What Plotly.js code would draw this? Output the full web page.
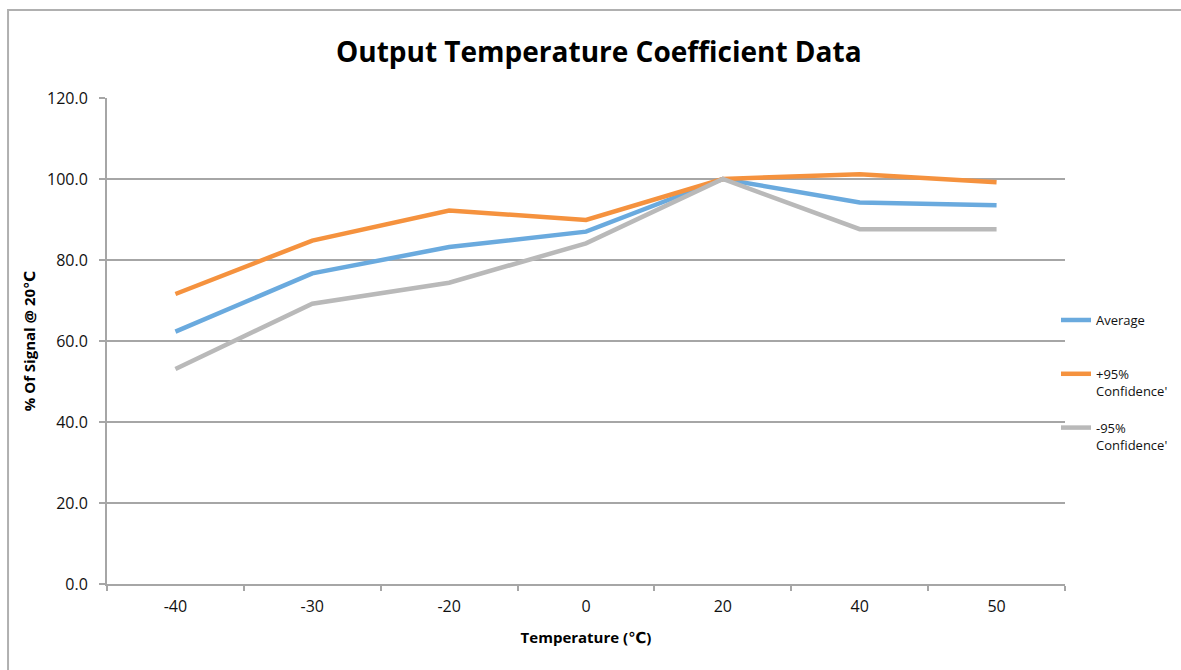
<!DOCTYPE html>
<html>
<head>
<meta charset="utf-8">
<script src="https://cdn.plot.ly/plotly-3.0.1.min.js"></script>
<style>
html,body{margin:0;padding:0;background:#fff;}
#chart{width:1181px;height:670px;}
</style>
</head>
<body>
<div id="chart"></div>
<script>
const categories = ["-40", "-30", "-20", "0", "20", "40", "50"];
const average = [62.3, 76.7, 83.2, 87.0, 100.0, 94.2, 93.5];
const plus95 = [71.6, 84.8, 92.2, 89.9, 100.0, 101.2, 99.2];
const minus95 = [53.1, 69.2, 74.4, 84.1, 100.0, 87.6, 87.6];
const seriesNames = ["Average<br> ", "+95%<br>Confidence'", "-95%<br>Confidence'"];
const yTicks = [0, 20, 40, 60, 80, 100, 120];

const colors = ["#6aaade", "#f5923e", "#b9b9b9"];
const values = [average, plus95, minus95];
const traces = values.map((v, i) => ({
  x: categories, y: v, type: "scatter", mode: "lines",
  name: seriesNames[i], legendgroup: "g" + i,
  line: {color: colors[i], width: 4.5}
}));

const font = "Open Sans, DejaVu Sans, sans-serif";
const layout = {
  width: 1181, height: 670,
  margin: {l: 107, r: 116, t: 98, b: 86, autoexpand: false},
  paper_bgcolor: "#fff", plot_bgcolor: "#fff",
  font: {family: font, color: "#111", size: 14},
  title: {text: "<b>Output Temperature Coefficient Data</b>", x: 0.507, xanchor: "center", y: 0.922, yanchor: "middle",
          font: {family: font, size: 28, color: "#000"}},
  xaxis: {
    type: "category", range: [-0.5, 6.5], tickson: "boundaries", ticks: "outside", ticklen: 5, tickcolor: "#a6a6a6", tickwidth: 2,
    showline: true, linecolor: "#a6a6a6", linewidth: 2, showgrid: false, zeroline: false,
    ticklabelstandoff: 7,
    tickfont: {size: 16, color: "#111"},
    title: {text: "<b>Temperature (℃)</b>", font: {size: 15, color: "#000"}, standoff: 16}
  },
  yaxis: {
    range: [0, 120], tickvals: yTicks, tickformat: ".1f", ticks: "outside", ticklen: 6, tickcolor: "#a6a6a6", tickwidth: 2,
    showline: true, linecolor: "#a6a6a6", linewidth: 2, gridcolor: "#a6a6a6", gridwidth: 2, zeroline: false,
    ticklabelstandoff: 8,
    tickfont: {size: 16, color: "#111"},
    title: {text: "<b>% Of Signal @ 20℃</b>", font: {size: 15, color: "#000"}, standoff: 8}
  },
  legend: {
    x: 0.9906, xanchor: "left", y: 0.574, yanchor: "top", valign: "top",
    traceorder: "grouped", tracegroupgap: 17,
    font: {size: 13, color: "#111"}, itemwidth: 30, bgcolor: "rgba(0,0,0,0)"
  },
  shapes: [{
    type: "rect", xref: "paper", yref: "paper", layer: "below",
    x0: -0.1033, x1: 1.3, y0: -0.3, y1: 1.181,
    line: {color: "#b0b0b0", width: 2}, fillcolor: "rgba(0,0,0,0)"
  }]
};
Plotly.newPlot("chart", traces, layout, {displayModeBar: false});
</script>
</body>
</html>
